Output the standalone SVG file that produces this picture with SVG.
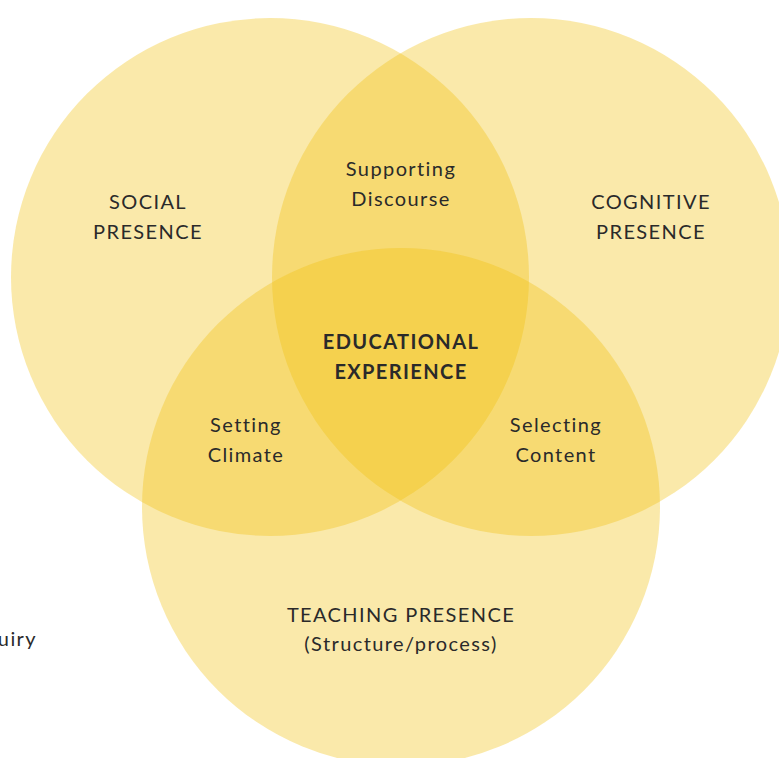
<svg xmlns="http://www.w3.org/2000/svg" width="779" height="758" viewBox="0 0 779 758">
<style>
.c{fill:#F1C00C;fill-opacity:0.35}
.t{font-family:Lato,"Open Sans",sans-serif;font-size:20px;fill:#2a2a2a;text-anchor:middle;letter-spacing:1.4px}
.b{font-weight:bold}
</style>
<rect width="779" height="758" fill="#fff"/>
<g id="social"><circle class="c" cx="270" cy="277" r="259"/></g>
<g id="cognitive"><circle class="c" cx="531" cy="277" r="259"/></g>
<g id="teaching"><circle class="c" cx="401" cy="507" r="259"/></g>
<g id="connectors"></g>
<g id="labels">
<text class="t" x="148" y="209">SOCIAL</text>
<text class="t" x="148" y="239">PRESENCE</text>
<text class="t" x="651" y="209">COGNITIVE</text>
<text class="t" x="651" y="239">PRESENCE</text>
<text class="t" x="401" y="176">Supporting</text>
<text class="t" x="401" y="206">Discourse</text>
<text class="t b" x="401" y="349">EDUCATIONAL</text>
<text class="t b" x="401" y="379">EXPERIENCE</text>
<text class="t" x="246" y="432">Setting</text>
<text class="t" x="246" y="462">Climate</text>
<text class="t" x="556" y="432">Selecting</text>
<text class="t" x="556" y="462">Content</text>
<text class="t" x="401" y="622">TEACHING PRESENCE</text>
<text class="t" x="401" y="651">(Structure/process)</text>
<text class="t" x="37" y="646" style="text-anchor:end">Inquiry</text>
</g>
</svg>
